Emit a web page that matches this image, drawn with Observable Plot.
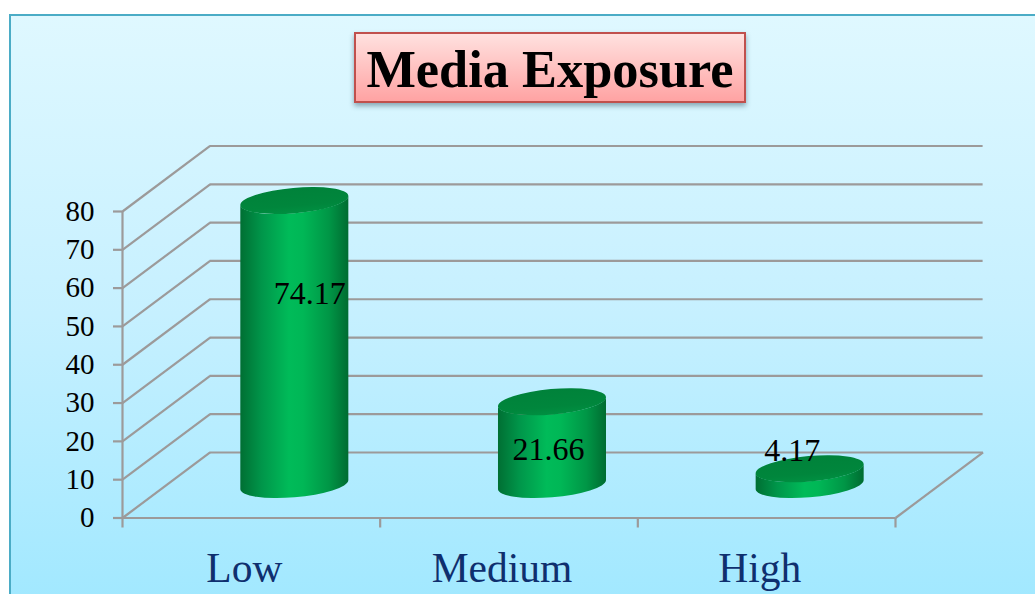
<!DOCTYPE html>
<html>
<head>
<meta charset="utf-8">
<title>Media Exposure</title>
<script src="https://cdn.jsdelivr.net/npm/d3@7"></script>
<script src="https://cdn.jsdelivr.net/npm/@observablehq/plot@0.6"></script>
<style>
  html, body { margin: 0; padding: 0; background: #fff; overflow: hidden; }
  #stage { position: relative; width: 1035px; height: 594px; overflow: hidden; }
  #panel {
    position: absolute; left: 9px; top: 14px; width: 1040px; height: 600px;
    box-sizing: border-box; border: 2.5px solid #4bacc6;
    background: linear-gradient(to bottom, #dff8ff 0%, #c6f0ff 50%, #a0e8ff 100%);
  }
  #chart { position: absolute; left: 0; top: 0; }
  #title {
    position: absolute; left: 354px; top: 32px; width: 392px; height: 71px;
    box-sizing: border-box; border: 2px solid #c0504d;
    background: linear-gradient(to bottom, #ffe1df 0%, #ffa3a3 100%);
    box-shadow: 0 3px 5px rgba(40, 70, 90, 0.45);
    font: bold 52.4px/71px "Liberation Serif", serif; color: #000;
    text-align: center; white-space: nowrap;
  }
</style>
</head>
<body>
<div id="stage">
  <div id="panel"></div>
  <div id="chart"></div>
  <div id="title">Media Exposure</div>
</div>
<script>
const categories = ["Low", "Medium", "High"];
const exposure = [74.17, 21.66, 4.17];
const yTicks = [0, 10, 20, 30, 40, 50, 60, 70, 80];
const xTicks = [0, 1, 2, 3];

// Oblique depth of the chart box, in data units of each axis.
const depthX = 0.34;
const depthY = 17.1;

const gridColor = "#9c9a9a";
const gridWidth = 2.2;

const rows = categories.map((name, i) => ({name, value: exposure[i], slot: i}));

// Per-label nudges in pixels, from the centre of each cylinder's top.
const labelNudge = {Low: [15, 93], Medium: [-4, 47], High: [-18, -19]};

// Replaces each rect with a cylinder: rounded base, shaded body, dark lid.
function cylinders(index, scales, values) {
  const g = d3.create("svg:g");
  const defs = g.append("defs");
  const shade = defs.append("linearGradient").attr("id", "cylinder-shade");
  [[0, "#006f33"], [0.2, "#00964a"], [0.45, "#00bb59"], [0.58, "#00b756"], [0.82, "#009646"], [1, "#006c31"]]
    .forEach(([o, c]) => shade.append("stop").attr("offset", o).attr("stop-color", c));
  const lid = defs.append("linearGradient")
    .attr("id", "cylinder-lid").attr("x1", 0).attr("y1", 0).attr("x2", 0).attr("y2", 1);
  [[0, "#00823a"], [0.7, "#00863c"], [1, "#008f41"]]
    .forEach(([o, c]) => lid.append("stop").attr("offset", o).attr("stop-color", c));

  const tilt = -5;
  for (const i of index) {
    const x1 = values.x1[i], x2 = values.x2[i];
    const top = values.y2[i], base = values.y1[i];
    const cx = (x1 + x2) / 2, hw = (x2 - x1) / 2;
    const a = hw + 0.2, b = 12.7, lean = 4.5;
    g.append("path")
      .attr("fill", "url(#cylinder-shade)")
      .attr("d", `M${cx - hw},${top + lean}L${cx - hw},${base + lean}` +
        `A${a},${b} ${tilt} 0 0 ${cx + hw},${base - lean}` +
        `L${cx + hw},${top - lean}` +
        `A${a},${b} ${tilt} 0 1 ${cx - hw},${top + lean}Z`);
    g.append("ellipse")
      .attr("cx", cx).attr("cy", top)
      .attr("rx", a).attr("ry", b)
      .attr("fill", "url(#cylinder-lid)")
      .attr("transform", `rotate(${tilt} ${cx} ${top})`);
  }
  return g.node();
}

const plot = Plot.plot({
  width: 1035,
  height: 594,
  marginLeft: 122,
  marginRight: 140,
  marginTop: 211,
  marginBottom: 76.5,
  x: {domain: [0, 3], axis: null},
  y: {domain: [0, 80], axis: null},
  style: {background: "transparent", fontFamily: "'Liberation Serif', serif"},
  marks: [
    // Back wall lines
    Plot.ruleY(yTicks, {
      y: d => d + depthY, x1: depthX, x2: 3 + depthX,
      stroke: gridColor, strokeWidth: gridWidth
    }),
    // Side wall lines running from the front axis to the back wall
    Plot.link(yTicks, {
      x1: 0, y1: d => d, x2: depthX, y2: d => d + depthY,
      stroke: gridColor, strokeWidth: gridWidth
    }),
    // Right edge of the floor
    Plot.link([0], {
      x1: 3, y1: 0, x2: 3 + depthX, y2: depthY,
      stroke: gridColor, strokeWidth: gridWidth
    }),
    // Front axes
    Plot.ruleX([0], {y1: 0, y2: 80, stroke: gridColor, strokeWidth: gridWidth}),
    Plot.ruleY([0], {x1: 0, x2: 3, stroke: gridColor, strokeWidth: gridWidth}),
    Plot.axisY(yTicks, {
      anchor: "left", tickSize: 9, tickPadding: 19, label: null,
      stroke: gridColor, strokeWidth: gridWidth, fill: "#000", fontSize: 29
    }),
    Plot.axisX(xTicks, {
      anchor: "bottom", tickSize: 10, tickFormat: () => "", label: null,
      stroke: gridColor, strokeWidth: gridWidth
    }),
    // Cylinders stand halfway back on the floor
    Plot.rect(rows, {
      x1: d => d.slot + 0.5 + 0.3376 / 2 - 0.2096,
      x2: d => d.slot + 0.5 + 0.3376 / 2 + 0.2096,
      y1: depthY / 2,
      y2: d => d.value + depthY / 2,
      render: cylinders
    }),
    // Category names
    Plot.text(rows, {
      x: d => d.slot + 0.5, y: 0, text: "name",
      dx: -7, dy: 51, fontSize: 41.5, fill: "#0f2f6e"
    }),
    // Value labels
    ...rows.map(row => Plot.text([row], {
      x: d => d.slot + 0.5 + 0.3376 / 2,
      y: d => d.value + depthY / 2,
      text: d => d.value.toFixed(2),
      dx: labelNudge[row.name][0],
      dy: labelNudge[row.name][1],
      fontSize: 32, fill: "#000"
    }))
  ]
});
document.getElementById("chart").append(plot);
</script>
</body>
</html>
